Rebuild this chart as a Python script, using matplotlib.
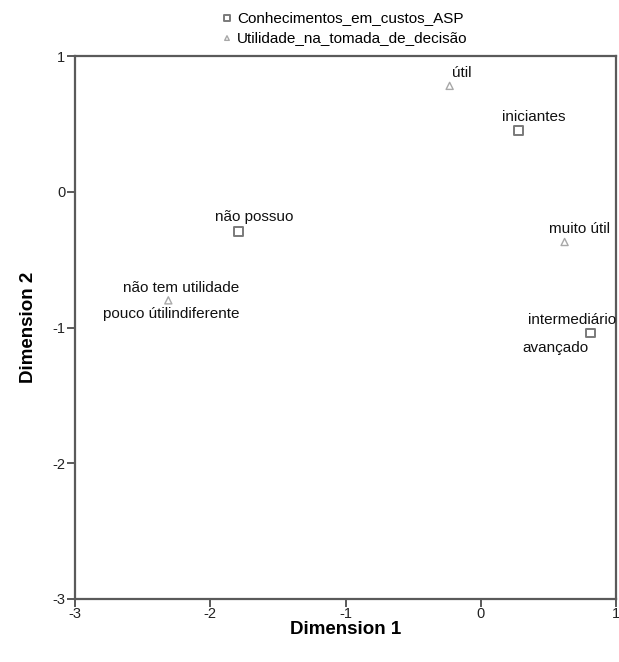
import matplotlib
matplotlib.use("Agg")
import matplotlib.pyplot as plt

plt.rcParams['font.family'] = ['Liberation Sans', 'DejaVu Sans']

# Data
conh_labels = ["não possuo", "iniciantes", "intermediário\navançado"]
conh_x = [-1.79, 0.28, 0.81]
conh_y = [-0.29, 0.45, -1.04]

util_labels = ["útil", "muito útil", "não tem utilidade"]
util_x = [-0.23, 0.62, -2.31]
util_y = [0.78, -0.37, -0.80]

xticks = [-3, -2, -1, 0, 1]
yticks = [-3, -2, -1, 0, 1]

fig = plt.figure(figsize=(6.19, 6.62), dpi=100)
W, H = 619, 662
ax = fig.add_axes([75 / W, 1 - 599 / H, (616 - 75) / W, (599 - 56) / H])

sq = ax.scatter(conh_x, conh_y, marker='s', s=40, facecolors='none',
                edgecolors='#7a7a7a', linewidths=1.4, zorder=3)
tr = ax.scatter(util_x, util_y, marker='^', s=26, facecolors='none',
                edgecolors='#a8a8a8', linewidths=1.0, zorder=3)

ax.set_xlim(-3, 1)
ax.set_ylim(-3, 1)
ax.set_xticks(xticks)
ax.set_yticks(yticks)
ax.set_xticklabels([str(t) for t in xticks])
ax.set_yticklabels([str(t) for t in yticks])
for s in ax.spines.values():
    s.set_color('#5a5a5a')
    s.set_linewidth(1.6)
ax.tick_params(direction='out', length=6, width=1.4, color='#5a5a5a',
               labelsize=10.5, pad=0, labelcolor='#222222')
ax.tick_params(axis='y', pad=1)

fs = 11
tc = '#111111'
def lab(x, y, text, dx, dy, ha='center', va='bottom'):
    ax.annotate(text, (x, y), xytext=(dx, dy), textcoords='offset points',
                ha=ha, va=va, fontsize=fs, color=tc)

# Conhecimentos labels
lab(conh_x[0], conh_y[0], "não possuo", 11, 5)
lab(conh_x[1], conh_y[1], "iniciantes", 11, 5)
lab(conh_x[2], conh_y[2], "intermediário", -13, 4)
lab(conh_x[2], conh_y[2], "avançado", -1, -6, ha='right', va='top')
# Utilidade labels
lab(util_x[0], util_y[0], "útil", 2, 4, ha='left')
lab(util_x[1], util_y[1], "muito útil", 11, 4)
lab(util_x[2], util_y[2], "não tem utilidade", 9, 4)
lab(util_x[2], util_y[2], "pouco útil", 0, -5, ha='right', va='top')
lab(util_x[2], util_y[2], "indiferente", 0, -5, ha='left', va='top')

ax.set_xlabel("Dimension 1", fontsize=13.5, fontweight='bold', labelpad=0)
ax.set_ylabel("Dimension 2", fontsize=13.5, fontweight='bold', labelpad=11)

leg = fig.legend([sq, tr], ["Conhecimentos_em_custos_ASP",
                            "Utilidade_na_tomada_de_decisão"],
                 loc='center', bbox_to_anchor=(343 / W, 1 - 28 / H),
                 frameon=False, fontsize=11, handletextpad=0.1,
                 labelspacing=0.4, handlelength=1.1, markerscale=0.65)

fig.savefig("out.png", dpi=100)
